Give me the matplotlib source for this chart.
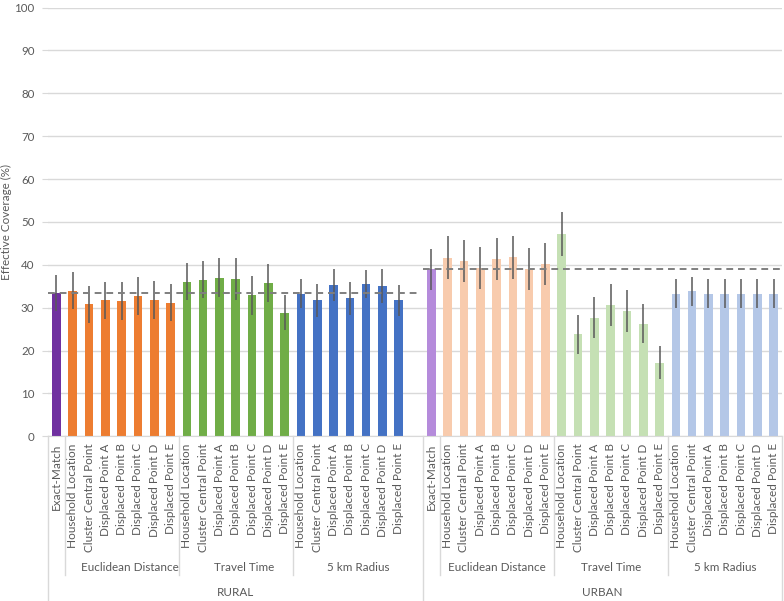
import numpy as np
import matplotlib
matplotlib.use("Agg")
import matplotlib.pyplot as plt
from matplotlib.lines import Line2D
from matplotlib.transforms import blended_transform_factory

TXT = "#595959"
GRID = "#d9d9d9"
ERR = "#595959"
DASH = "#7f7f7f"

plt.rcParams["font.family"] = ["Lato", "DejaVu Sans"]

# ---------------------------------------------------------------- data
settings = ["RURAL", "URBAN"]
methods = ["Euclidean Distance", "Travel Time", "5 km Radius"]
points = ["Household Location", "Cluster Central Point", "Displaced Point A",
          "Displaced Point B", "Displaced Point C", "Displaced Point D",
          "Displaced Point E"]

rural_exact, rural_exact_err = 33.5, 4.2
rural_euclid = [34.0, 30.8, 31.7, 31.6, 32.7, 31.8, 31.2]
rural_euclid_err = [4.4, 4.3, 4.3, 4.4, 4.4, 4.5, 4.3]
rural_travel = [36.0, 36.5, 37.0, 36.7, 32.9, 35.7, 28.8]
rural_travel_err = [4.3, 4.3, 4.5, 4.8, 4.6, 4.4, 4.1]
rural_radius = [33.3, 31.7, 35.3, 32.2, 35.5, 35.1, 31.7]
rural_radius_err = [3.4, 3.9, 3.7, 3.8, 3.3, 4.0, 3.7]

urban_exact, urban_exact_err = 38.9, 4.8
urban_euclid = [41.6, 40.9, 39.3, 41.4, 41.7, 39.1, 40.2]
urban_euclid_err = [5.0, 4.9, 4.9, 4.9, 5.0, 4.9, 4.8]
urban_travel = [47.2, 23.8, 27.7, 30.7, 29.3, 26.3, 17.2]
urban_travel_err = [5.1, 4.6, 4.7, 4.9, 4.9, 4.5, 3.8]
urban_radius = [33.3, 33.8, 33.3, 33.3, 33.3, 33.3, 33.3]
urban_radius_err = [3.4, 3.4, 3.4, 3.4, 3.4, 3.4, 3.4]

rural_colors = ["#7030a0", "#ed7d31", "#70ad47", "#4472c4"]
urban_colors = ["#b58bdb", "#f8cbad", "#c5e0b4", "#b4c7e7"]

data = [
    (rural_exact, rural_exact_err,
     [(rural_euclid, rural_euclid_err), (rural_travel, rural_travel_err),
      (rural_radius, rural_radius_err)], rural_colors),
    (urban_exact, urban_exact_err,
     [(urban_euclid, urban_euclid_err), (urban_travel, urban_travel_err),
      (urban_radius, urban_radius_err)], urban_colors),
]

# ---------------------------------------------------------------- figure
fig = plt.figure(figsize=(7.84, 6.01), dpi=100)
ax = fig.add_axes([48.3 / 784, 164.7 / 601, 733.5 / 784, 428.8 / 601])

W = 0.53
ekw = dict(ecolor=ERR, elinewidth=1.1, capsize=0)
ticks, labels = [], []
seps_short, seps_full = [], [-0.5]
group_lab, top_lab = [], []
x = 0
for (exact, exact_err, groups, cols), setting in zip(data, settings):
    start = x - 0.5
    ax.bar(x, exact, W, color=cols[0], yerr=exact_err, error_kw=ekw, zorder=2)
    ticks.append(x); labels.append("Exact-Match")
    x += 1
    for gi, ((vals, errs), meth) in enumerate(zip(groups, methods)):
        seps_short.append(x - 0.5)
        pos = np.arange(x, x + len(vals))
        ax.bar(pos, vals, W, color=cols[gi + 1], yerr=errs, error_kw=ekw,
               zorder=2)
        ticks += list(pos); labels += points
        x += len(vals)
        g0 = x - len(vals) - 0.5
        gend = x - 0.5 if setting == settings[-1] else x + 0.5
        group_lab.append(((g0 + gend) / 2, meth))
    if setting != settings[-1]:
        x += 1  # blank slot between settings
    end = x - 0.5
    seps_full.append(end)
    top_lab.append(((start + end) / 2, setting))
    ax.plot([start, end - 0.2 if setting != settings[-1] else end],
            [exact, exact], color=DASH, lw=1.4, ls=(0, (3.5, 2.5)), zorder=3)

ax.set_xlim(-0.5, x - 0.5)
ax.set_ylim(0, 100)
ax.set_yticks(np.arange(0, 101, 10))
ax.grid(axis="y", color=GRID, lw=1, zorder=0)
ax.set_axisbelow(True)
for s in ["top", "right", "left"]:
    ax.spines[s].set_visible(False)
ax.spines["bottom"].set_color(GRID)
ax.tick_params(axis="y", length=4, color=GRID, labelsize=8.3,
               labelcolor=TXT, pad=6)
ax.set_xticks(ticks)
ax.set_xticklabels(labels, rotation=90, fontsize=8.5, color=TXT)
ax.tick_params(axis="x", length=0, pad=5)
ax.set_ylabel("Effective Coverage (%)", fontsize=8.4, color=TXT)
ax.yaxis.set_label_coords(-0.049, 0.5)

tr = blended_transform_factory(ax.transData, ax.transAxes)
for s in seps_short:
    ax.add_line(Line2D([s, s], [0, -0.324], transform=tr, color=GRID,
                       lw=1, clip_on=False))
for s in seps_full:
    ax.add_line(Line2D([s, s], [0, -0.382], transform=tr, color=GRID,
                       lw=1, clip_on=False))
for cx, t in group_lab:
    ax.text(cx, -0.307, t, transform=tr, ha="center", va="center",
            fontsize=8.4, color=TXT)
for cx, t in top_lab:
    ax.text(cx, -0.365, t, transform=tr, ha="center", va="center",
            fontsize=8.4, color=TXT)

fig.savefig("out.png", dpi=100)
